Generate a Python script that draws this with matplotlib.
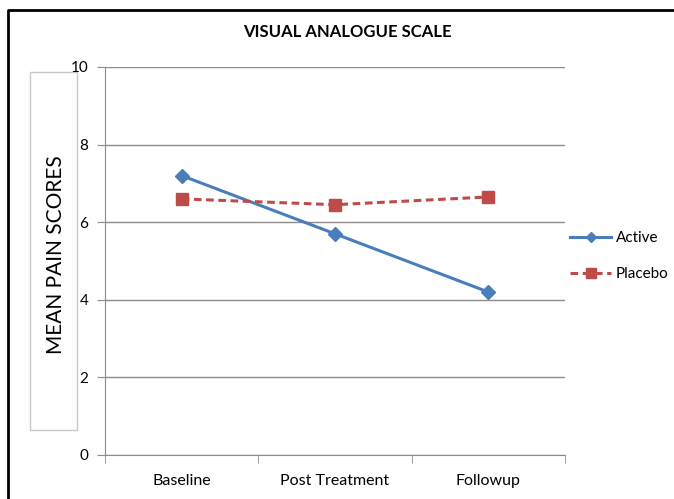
import matplotlib
matplotlib.use("Agg")
import matplotlib.pyplot as plt
from matplotlib.lines import Line2D
from matplotlib.patches import Rectangle

plt.rcParams['font.family'] = ['Lato', 'DejaVu Sans']

# Mean VAS pain scores per visit
visits = ['Baseline', 'Post Treatment', 'Followup']
active = [7.2, 5.7, 4.2]
placebo = [6.6, 6.45, 6.65]
y_ticks = [0, 2, 4, 6, 8, 10]

fig = plt.figure(figsize=(6.74, 4.99), dpi=100)
ax = fig.add_axes([0.1558, 0.0882, 0.6825, 0.7776])

x = range(len(visits))
ax.plot(x, active, color='#4a7ebb', lw=2.2, marker='D', ms=7,
        label='Active')
ax.plot(x, placebo, color='#be4b48', lw=2.2, ls=(0, (2.5, 1.5)), marker='s',
        ms=9, label='Placebo')

ax.set_xlim(-0.5, 2.5)
ax.set_ylim(0, 10)
ax.set_yticks(y_ticks)
ax.yaxis.grid(True, color='#8c8c8c', lw=1)
ax.set_axisbelow(True)
ax.set_xticks(list(x))
ax.set_xticklabels(visits)
ax.set_xticks([-0.5, 0.5, 1.5, 2.5], minor=True)
ax.tick_params(axis='x', which='major', length=0, pad=14, labelsize=11.5)
ax.tick_params(axis='x', which='minor', length=6, color='#8c8c8c')
ax.tick_params(axis='y', length=6, color='#8c8c8c', labelsize=11, pad=6)
for side in ['top', 'right']:
    ax.spines[side].set_visible(False)
for side in ['left', 'bottom']:
    ax.spines[side].set_color('#8c8c8c')

fig.text(0.515, 0.936, 'VISUAL ANALOGUE SCALE', ha='center', va='center',
         fontsize=12, fontweight='bold', fontstretch='condensed')

# boxed axis title
fig.patches.append(Rectangle((0.0445, 0.138), 0.0695, 0.718,
                             transform=fig.transFigure, fill=False,
                             ec='#c8c8c8', lw=1, zorder=-1))
fig.text(0.083, 0.49, 'MEAN PAIN SCORES', rotation=90, ha='center',
         va='center', fontsize=15)

leg = fig.legend(loc='upper left', bbox_to_anchor=(0.8457, 0.537),
                 frameon=False, fontsize=11, handlelength=2.7,
                 labelspacing=1.45, handletextpad=0.3, borderpad=0,
                 borderaxespad=0, markerscale=0.8)

# outer frame
fig.lines.append(Line2D([0.012, 0.012, 1.0], [0.0, 0.98, 0.98],
                        transform=fig.transFigure, color='black', lw=2))

fig.savefig('out.png', dpi=100)
